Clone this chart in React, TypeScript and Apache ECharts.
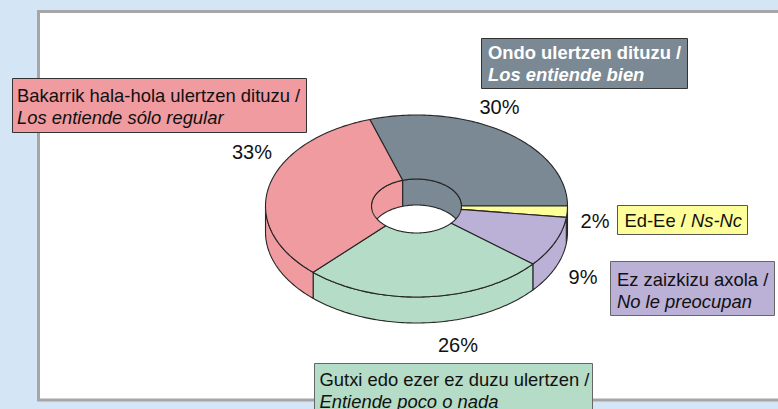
import React, { useEffect, useRef } from "react";
import * as echarts from "echarts";

const sliceNames = ["Ondo ulertzen dituzu", "Ed-Ee", "Ez zaizkizu axola", "Gutxi edo ezer ez duzu ulertzen", "Bakarrik hala-hola ulertzen dituzu"];
const sliceValues = [30, 2, 9, 26, 33];
const sliceColors = ["#7B8995", "#FFFF99", "#BBB0D6", "#B5DCC6", "#EF9BA0"];
const labelLinesEu = ["Ondo ulertzen dituzu /", "Ed-Ee / ", "Ez zaizkizu axola /", "Gutxi edo ezer ez duzu ulertzen /", "Bakarrik hala-hola ulertzen dituzu /"];
const labelLinesEs = ["Los entiende bien", "Ns-Nc", "No le preocupan", "Entiende poco o nada", "Los entiende sólo regular"];

const START_DEG = -18;
const CX = 416.5, CY = 206, RX = 151, RY = 91, IRX = 45, IRY = 27, DEPTH = 26;
const STROKE = "#262626";
const FONT = 18.4;

const boxes = [
  { x: 481.5, y: 38.5, w: 206, h: 50, border: "#333333", color: "#ffffff", bold: true, tx: 6.5, ty: 2.5 },
  { x: 617.5, y: 205.5, w: 130, h: 29, border: "#555555", color: "#111111", bold: false, oneLine: true, tx: 7, ty: 0 },
  { x: 610.5, y: 261.5, w: 164, h: 54, border: "#666666", color: "#111111", bold: false, tx: 6.5, ty: 6.5 },
  { x: 314.5, y: 363.5, w: 278, h: 60, border: "#666666", color: "#111111", bold: false, tx: 5, ty: 4.5 },
  { x: 12.5, y: 78.5, w: 294, h: 54, border: "#333333", color: "#111111", bold: false, tx: 4.5, ty: 5.5 },
];
const pctPos = [
  [499.5, 107], [595, 221], [583, 277], [458, 344.5], [252, 152],
];

function pt(deg: number, rx: number, ry: number, dy = 0): number[] {
  const a = (deg * Math.PI) / 180;
  return [CX + rx * Math.sin(a), CY - ry * Math.cos(a) + dy];
}
function arc(a: number, b: number, rx: number, ry: number, dy = 0): number[][] {
  const out: number[][] = [];
  const n = Math.max(2, Math.ceil(Math.abs(b - a) / 1));
  for (let i = 0; i <= n; i++) out.push(pt(a + ((b - a) * i) / n, rx, ry, dy));
  return out;
}
function poly(points: number[][], fill: string) {
  return { type: "polygon", shape: { points }, style: { fill, stroke: STROKE, lineWidth: 1.1, lineJoin: "round" } };
}

export default function App() {
  const ref = useRef<HTMLDivElement>(null);
  useEffect(() => {
    document.body.style.margin = "0";
    const chart = echarts.init(ref.current!, null, { renderer: "svg" });
    const total = sliceValues.reduce((s, v) => s + v, 0);
    let acc = START_DEG;
    const spans = sliceValues.map((v) => {
      const a = acc;
      acc += (v / total) * 360;
      return [a, acc];
    });
    const dataRows = sliceValues.map((v, i) => ({ name: sliceNames[i], value: [v, spans[i][0], spans[i][1], i] }));

    const layer = (kind: string) => ({
      type: "custom",
      coordinateSystem: "none",
      silent: true,
      data: dataRows,
      renderItem: (_p: any, api: any) => {
        const a = api.value(1), b = api.value(2);
        const fill = sliceColors[api.value(3)];
        const children: any[] = [];
        if (kind === "outerWall") {
          const s = Math.max(a, 90), e = Math.min(b, 270);
          if (e > s) children.push(poly([...arc(s, e, RX, RY), ...arc(e, s, RX, RY, DEPTH)], fill));
        } else if (kind === "innerWall") {
          const s = Math.max(a, -90), e = Math.min(b, 90);
          if (e > s) children.push(poly([...arc(s, e, IRX, IRY), ...arc(e, s, IRX, IRY, DEPTH)], fill));
          const s2 = Math.max(a - 360, -90), e2 = Math.min(b - 360, 90);
          if (e2 > s2) children.push(poly([...arc(s2, e2, IRX, IRY), ...arc(e2, s2, IRX, IRY, DEPTH)], fill));
        } else {
          children.push(poly([...arc(a, b, RX, RY), ...arc(b, a, IRX, IRY)], fill));
        }
        return { type: "group", children };
      },
    });

    const boxGraphics = boxes.map((b, i) => ({
      type: "group",
      children: [
        { type: "rect", shape: { x: b.x, y: b.y, width: b.w, height: b.h }, style: { fill: sliceColors[i], stroke: b.border, lineWidth: 1 } },
        {
          type: "text",
          x: b.x + b.tx,
          y: b.oneLine ? b.y + b.h / 2 : b.y + b.ty,
          style: b.oneLine
            ? {
                text: `{n|${labelLinesEu[i]}}{i|${labelLinesEs[i]}}`,
                verticalAlign: "middle",
                rich: {
                  n: { fontFamily: "Liberation Sans", fontSize: FONT, fill: b.color },
                  i: { fontFamily: "Liberation Sans", fontSize: FONT, fontStyle: "italic", fill: b.color },
                },
              }
            : {
                text: `{n|${labelLinesEu[i]}}\n{i|${labelLinesEs[i]}}`,
                verticalAlign: "top",
                rich: {
                  n: { fontFamily: "Liberation Sans", fontSize: FONT, lineHeight: 22.5, fontWeight: b.bold ? "bold" : "normal", fill: b.color },
                  i: { fontFamily: "Liberation Sans", fontSize: FONT, lineHeight: 22.5, fontWeight: b.bold ? "bold" : "normal", fontStyle: "italic", fill: b.color },
                },
              },
        },
      ],
    }));
    const pctGraphics = sliceValues.map((v, i) => ({
      type: "text",
      x: pctPos[i][0],
      y: pctPos[i][1],
      style: { text: `${v}%`, fontFamily: "Liberation Sans", fontSize: 20, fill: "#111111", align: "center", verticalAlign: "middle" },
    }));

    chart.setOption({
      animation: false,
      backgroundColor: "#D4E6F5",
      graphic: [
        {
          type: "rect",
          z: -1,
          shape: { x: 38.5, y: 11.5, width: 800, height: 388.5 },
          style: { fill: "#ffffff", stroke: "#A6A6A6", lineWidth: 3 },
        },
        ...boxGraphics,
        ...pctGraphics,
      ],
      series: [layer("outerWall"), layer("innerWall"), layer("top")],
    });
    return () => chart.dispose();
  }, []);
  return <div ref={ref} style={{ width: 778, height: 409 }} />;
}
